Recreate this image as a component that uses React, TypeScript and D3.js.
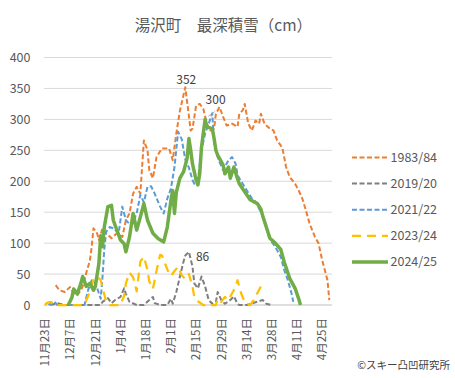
import React from "react";
import * as d3 from "d3";

// Day index counted from Nov 23 (0) to Apr 30 (159), leap-year calendar
const tickDays = [0, 14, 28, 42, 56, 70, 84, 98, 112, 126, 140, 154];
const tickLabels = ["11月23日", "12月7日", "12月21日", "1月4日", "1月18日", "2月1日", "2月15日", "2月29日", "3月14日", "3月28日", "4月11日", "4月25日"];
const yTicks = [0, 50, 100, 150, 200, 250, 300, 350, 400];

const s1983: [number, number][] = [[6,32],[8,24],[11,21],[14,29],[16,19],[18,16],[20,24],[21,30],[23,52],[25,72],[26,94],[27,124],[29,116],[30,105],[32,124],[34,116],[37,108],[40,116],[43,110],[45,137],[47,148],[49,180],[51,191],[53,180],[55,266],[57,250],[58,218],[60,205],[62,239],[65,253],[69,253],[71,234],[73,277],[75,314],[78,352],[81,282],[82,285],[84,322],[86,325],[88,317],[90,293],[92,282],[94,285],[95,309],[97,320],[99,304],[101,290],[104,293],[107,288],[108,309],[110,315],[111,325],[113,293],[115,282],[117,298],[119,293],[120,309],[122,293],[125,285],[127,282],[129,266],[131,258],[132,253],[134,223],[136,207],[139,196],[141,185],[143,172],[145,153],[147,132],[150,110],[152,100],[154,73],[156,51],[157,40],[158,8]];
const s2019: [number, number][] = [[3,0],[7,3],[11,0],[31,0],[32,5],[35,11],[37,3],[39,8],[42,13],[44,27],[45,18],[47,5],[51,0],[55,0],[58,8],[60,13],[61,3],[64,0],[68,0],[70,10],[71,2],[73,21],[75,46],[77,70],[78,80],[80,86],[82,62],[83,35],[85,27],[87,46],[89,30],[91,8],[93,2],[95,5],[96,21],[98,8],[100,2],[103,8],[105,14],[107,2],[108,0],[112,0],[121,8],[123,2],[126,0]];
const s2021: [number, number][] = [[2,0],[5,6],[7,0],[22,0],[24,24],[26,40],[28,35],[30,19],[31,10],[32,45],[33,90],[34,118],[36,126],[38,124],[41,116],[43,159],[45,137],[48,128],[51,148],[53,178],[55,166],[57,191],[59,192],[61,180],[64,159],[66,148],[68,172],[70,188],[72,223],[74,280],[76,268],[78,235],[80,222],[82,202],[83,196],[85,202],[87,250],[89,277],[91,293],[93,310],[94,261],[96,239],[97,231],[99,218],[102,234],[104,239],[106,228],[107,210],[109,200],[112,186],[115,172],[117,167],[120,150],[122,137],[124,113],[126,102],[128,94],[131,78],[133,56],[135,40],[137,19],[138,5]];
const s2023: [number, number][] = [[0,0],[1,3],[3,5],[5,0],[22,0],[25,22],[27,40],[29,46],[31,40],[32,28],[34,6],[36,0],[42,0],[44,15],[45,35],[47,52],[49,45],[51,22],[53,70],[55,78],[57,56],[58,38],[60,26],[62,55],[64,81],[65,80],[67,65],[69,50],[70,47],[72,55],[74,62],[76,48],[78,42],[80,50],[82,30],[83,13],[85,6],[88,0],[95,0],[96,10],[98,5],[100,13],[102,8],[104,19],[106,30],[107,40],[109,19],[111,5],[114,0],[116,8],[118,19],[120,30],[121,24]];
const s2024: [number, number][] = [[13,0],[15,12],[16,26],[18,18],[20,35],[21,46],[23,30],[25,35],[27,24],[28,30],[30,67],[31,112],[32,94],[33,126],[35,159],[37,161],[38,137],[40,121],[42,105],[44,99],[45,86],[47,110],[49,148],[51,121],[53,142],[55,164],[57,137],[60,116],[63,107],[66,102],[68,126],[70,169],[71,185],[72,148],[73,182],[75,205],[77,215],[79,237],[80,269],[81,250],[82,228],[84,202],[85,194],[86,212],[87,255],[89,300],[90,288],[93,285],[94,269],[95,250],[96,242],[97,237],[99,226],[100,212],[102,223],[103,205],[105,223],[107,204],[108,196],[111,183],[114,170],[116,167],[118,164],[120,155],[121,144],[123,126],[125,108],[128,100],[131,90],[133,69],[136,43],[139,27],[141,10],[142,0]];

const seriesNames = ["1983/84", "2019/20", "2021/22", "2023/24", "2024/25"];
const seriesData = [s1983, s2019, s2021, s2023, s2024];
const seriesColors = ["#ED7D31", "#7F7F7F", "#5B9BD5", "#FFC000", "#70AD47"];
const seriesDash = ["5,2.5", "5,2.5", "5,2.5", "9,6", null];
const seriesWidth = [2, 2, 2, 2.25, 3.5];

export default function App() {
  const W = 455, H = 378;
  const left = 44, right = 332, top = 57.5, bottom = 305;
  const nDays = 160;
  const x = d3.scaleLinear().domain([0, nDays]).range([left, right]);
  const xc = (d: number) => x(d + 0.5);
  const y = d3.scaleLinear().domain([0, 400]).range([bottom, top]);
  const line = d3.line<[number, number]>().x(d => xc(d[0])).y(d => y(d[1]));
  const font = "'Noto Sans CJK JP', 'Noto Sans', sans-serif";
  const txt = "#595959";

  const peak1983 = s1983.reduce((a, b) => (b[1] > a[1] ? b : a));
  const peak2019 = s2019.reduce((a, b) => (b[1] > a[1] ? b : a));
  const peak2024 = s2024.reduce((a, b) => (b[1] > a[1] ? b : a));

  return (
    <svg width={W} height={H} style={{ position: "absolute", left: 0, top: 0, background: "#fff" }} fontFamily={font}>
      <rect width={W} height={H} fill="#fff" />
      <text x={223.5} y={31} textAnchor="middle" fontSize={15.5} fill={txt}>湯沢町　最深積雪（cm）</text>
      {yTicks.map(t => (
        <g key={t}>
          <line x1={left} x2={right} y1={y(t)} y2={y(t)} stroke={t === 0 ? "#BFBFBF" : "#D9D9D9"} strokeWidth={1} />
          <text x={30.5} y={y(t) + 4.5} textAnchor="end" fontSize={12.5} fill={txt}>{t}</text>
        </g>
      ))}
      {tickDays.map((d, i) => (
        <text key={d} transform={`translate(${xc(d) + 4.2},${318}) rotate(-90)`} textAnchor="end" fontSize={11.5} fill={txt}>{tickLabels[i]}</text>
      ))}
      {seriesData.map((s, i) => (
        <path key={seriesNames[i]} d={line(s) || ""} fill="none" stroke={seriesColors[i]} strokeWidth={seriesWidth[i]}
          strokeDasharray={seriesDash[i] || undefined} strokeLinejoin="round" />
      ))}
      <text x={xc(peak1983[0]) + 1} y={y(peak1983[1]) - 3} textAnchor="middle" fontSize={12} fill="#404040">{peak1983[1]}</text>
      <text x={xc(peak2019[0]) + 7} y={y(peak2019[1]) + 9} fontSize={12} fill="#404040">{peak2019[1]}</text>
      <line x1={xc(peak2024[0]) + 3} y1={y(peak2024[1]) - 3} x2={xc(peak2024[0]) + 10} y2={y(peak2024[1]) - 8} stroke="#A6A6A6" strokeWidth={0.75} />
      <text x={xc(peak2024[0]) + 0.5} y={y(peak2024[1]) - 15.5} fontSize={12} fill="#404040">{peak2024[1]}</text>
      {seriesNames.map((n, i) => {
        const ly = 157.5 + i * 26.1;
        return (
          <g key={n}>
            <line x1={352} x2={388} y1={ly} y2={ly} stroke={seriesColors[i]} strokeWidth={seriesWidth[i]} strokeDasharray={seriesDash[i] || undefined} />
            <text x={390.5} y={ly + 4.5} fontSize={12.5} fill={txt}>{n}</text>
          </g>
        );
      })}
      <text x={450} y={369} textAnchor="end" fontSize={10.5} fill="#404040">©スキー凸凹研究所</text>
    </svg>
  );
}
